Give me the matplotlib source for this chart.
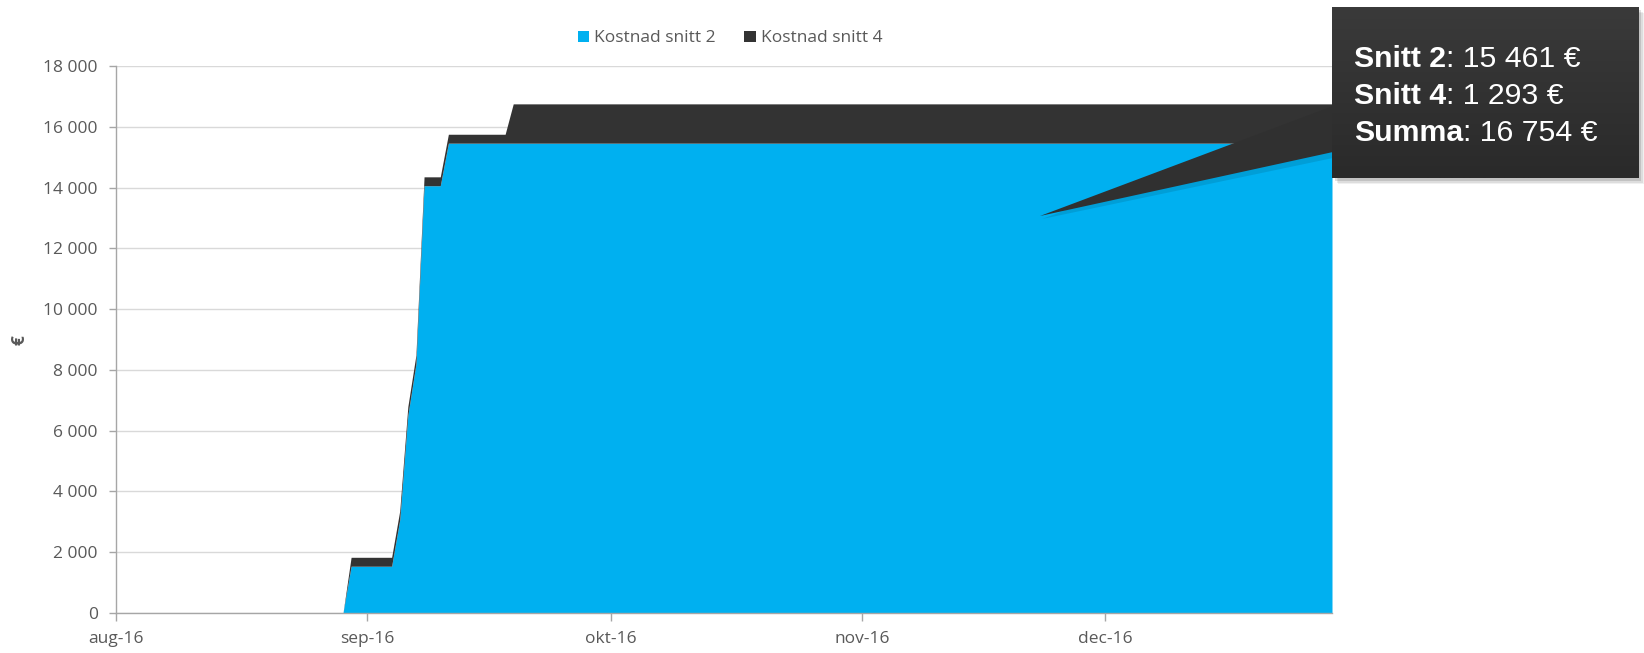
import matplotlib
matplotlib.use('Agg')
import matplotlib.pyplot as plt
from matplotlib.patches import Patch, Rectangle, Polygon
from matplotlib.ticker import FuncFormatter
import numpy as np
import pandas as pd

# data
dates = pd.to_datetime(['2016-08-01', '2016-08-29', '2016-08-30', '2016-09-04',
                        '2016-09-05', '2016-09-06', '2016-09-07', '2016-09-08',
                        '2016-09-10', '2016-09-11', '2016-09-18', '2016-09-19',
                        '2016-12-29'])
snitt2 = [0, 0, 1540, 1540, 3070, 6500, 8200, 14060, 14060, 15461, 15461, 15461, 15461]
snitt4 = [0, 0, 293, 293, 293, 293, 293, 293, 293, 293, 293, 1293, 1293]
series_names = ['Kostnad snitt 2', 'Kostnad snitt 4']
month_ticks = pd.to_datetime(['2016-08-01', '2016-09-01', '2016-10-01',
                              '2016-11-01', '2016-12-01'])
month_labels = ['aug-16', 'sep-16', 'okt-16', 'nov-16', 'dec-16']

BLUE = '#00b0f0'
DARK = '#333333'
GREY_TXT = '#595959'
W, H = 1644, 653

plt.rcParams['font.family'] = ['Open Sans', 'DejaVu Sans']

fig = plt.figure(figsize=(W / 100, H / 100), dpi=100)
ax = fig.add_axes([116 / W, 1 - 613 / H, (1332 - 116) / W, (613 - 66) / H])

s2 = np.array(snitt2, dtype=float)
s4 = np.array(snitt4, dtype=float)
ax.fill_between(dates, 0, s2, color=BLUE, lw=0, zorder=2)
ax.fill_between(dates, s2, s2 + s4, color=DARK, lw=0, zorder=2)

ax.set_xlim(dates[0], dates[-1])
ax.set_ylim(0, 18000)
ax.set_yticks(np.arange(0, 18001, 2000))
ax.yaxis.set_major_formatter(FuncFormatter(lambda v, p: f'{v:,.0f}'.replace(',', ' ')))
ax.set_xticks(month_ticks)
ax.set_xticklabels(month_labels)

ax.grid(axis='y', color='#d9d9d9', lw=1, zorder=0)
ax.set_axisbelow(True)
for s in ['top', 'right']:
    ax.spines[s].set_visible(False)
for s in ['left', 'bottom']:
    ax.spines[s].set_color('#a6a6a6')
    ax.spines[s].set_linewidth(1)
ax.tick_params(axis='y', length=5, width=1, color='#a6a6a6', pad=8,
               labelsize=12.5, labelcolor=GREY_TXT)
ax.tick_params(axis='x', length=6, width=1, color='#a6a6a6', pad=7,
               labelsize=12.5, labelcolor=GREY_TXT)

fig.text(19 / W, 1 - 340 / H, '€', rotation=90, ha='center', va='center',
         fontsize=12.5, fontweight='bold', color=GREY_TXT)

handles = [Patch(facecolor=BLUE, edgecolor='none'), Patch(facecolor=DARK, edgecolor='none')]
fig.legend(handles, series_names, loc='center', bbox_to_anchor=(730 / W, 1 - 38.5 / H),
           ncol=2, frameon=False, fontsize=12.5, labelcolor=GREY_TXT,
           handlelength=0.67, handleheight=0.67, handletextpad=0.3, columnspacing=1.6)

# callout overlay in pixel coordinates
ov = fig.add_axes([0, 0, 1, 1], zorder=5)
ov.axis('off')
ov.patch.set_alpha(0)

bx, by, bw, bh = 1332, 7, 306, 171
for i, a in enumerate([0.06, 0.08, 0.12]):
    off = 6 - i * 1.5
    ov.add_patch(Rectangle((bx + off, by + off), bw, bh, fc='black', ec='none', alpha=a))
grad = np.linspace(0, 1, 100).reshape(-1, 1)
ov.imshow(grad, cmap=matplotlib.colors.LinearSegmentedColormap.from_list('g', ['#3a3a3a', '#2a2a2a']),
          extent=(bx, bx + bw, by + bh, by), aspect='auto', zorder=3)
ov.add_patch(Polygon([(1040, 216), (1333, 106), (1333, 152)], closed=True,
                     fc='#303030', ec='none', zorder=2))
ov.add_patch(Polygon([(1042, 219), (1333, 110), (1333, 158)], closed=True,
                     fc='black', ec='none', alpha=0.10, zorder=1))
ov.set_xlim(0, W)
ov.set_ylim(H, 0)

tot = s2[-1] + s4[-1]
fmt = lambda v: f'{v:,.0f}'.replace(',', ' ')
lines = [('Snitt 2', f': {fmt(s2[-1])} €'),
         ('Snitt 4', f': {fmt(s4[-1])} €'),
         ('Summa', f': {fmt(tot)} €')]
for (bold, rest), yb in zip(lines, [67, 104, 141]):
    t = ov.text(1354, yb, bold, fontsize=21.8, fontweight='bold', color='white',
                family=['Liberation Sans', 'DejaVu Sans'], va='baseline', ha='left', zorder=4)
    ov.annotate(rest, xy=(1, 0), xycoords=t, fontsize=21.8, color='white',
                family=['Liberation Sans', 'DejaVu Sans'], va='bottom', ha='left', zorder=4)

fig.savefig('out.png', dpi=100)
